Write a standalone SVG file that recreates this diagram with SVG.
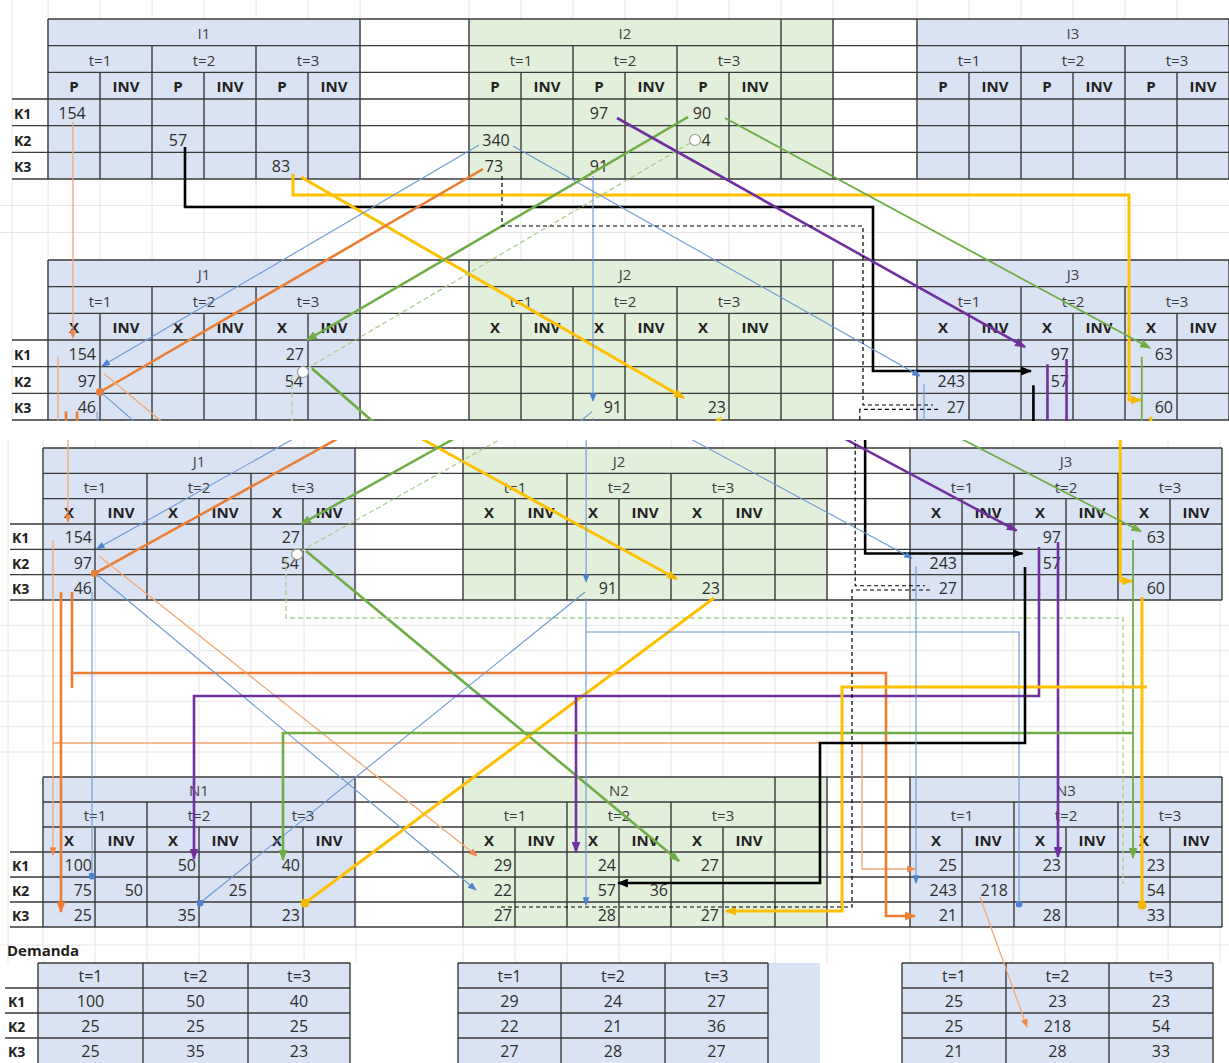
<svg xmlns="http://www.w3.org/2000/svg" xmlns:xlink="http://www.w3.org/1999/xlink" width="1229" height="1063" viewBox="0 0 1229 1063">
<style>
.fr{fill:none;stroke:#3a3a3a;stroke-width:1.4}
.rl{fill:none;stroke:#3a3a3a;stroke-width:1.4}
.gr{fill:none;stroke:#e6e6e6;stroke-width:1}
.blue{fill:#dae3f3}
.green{fill:#e2efda}
.h{font-family:"Open Sans","Liberation Sans",sans-serif;font-size:15px;fill:#3a3a3a;text-anchor:middle}
.b{font-weight:bold;fill:#222}
.ti{font-family:"Open Sans","Liberation Sans",sans-serif;font-size:15px;fill:#444;text-anchor:middle}
.v{font-family:"Open Sans","Liberation Sans",sans-serif;font-size:16px;fill:#2e2e2e;text-anchor:end}
.vc{font-family:"Open Sans","Liberation Sans",sans-serif;font-size:16px;fill:#2e2e2e;text-anchor:middle}
.k{font-family:"Open Sans","Liberation Sans",sans-serif;font-size:14px;font-weight:bold;fill:#222}
.oT{fill:none;stroke:#f4a773;stroke-width:1.3}
.oK{fill:none;stroke:#ed7d31;stroke-width:2.6}
.bT{fill:none;stroke:#6b97d6;stroke-width:1.1}
.gK{fill:none;stroke:#70ad47;stroke-width:2.6}
.gT{fill:none;stroke:#70ad47;stroke-width:1.8}
.gD{fill:none;stroke:#a9cf8e;stroke-width:1.3;stroke-dasharray:5 3}
.yK{fill:none;stroke:#ffc000;stroke-width:3}
.pK{fill:none;stroke:#7030a0;stroke-width:2.6}
.kK{fill:none;stroke:#000;stroke-width:2.6}
.kD{fill:none;stroke:#000;stroke-width:1.2;stroke-dasharray:4 3}
.ring{fill:#fff;stroke:#9a9a9a;stroke-width:1.2}
</style>
<defs>
<marker id="mO" viewBox="0 0 10 8" refX="9" refY="4" markerWidth="11" markerHeight="9" markerUnits="userSpaceOnUse" orient="auto"><path d="M0,0L10,4L0,8z" fill="#ed7d31"/></marker>
<marker id="mOt" viewBox="0 0 10 8" refX="9" refY="4" markerWidth="9" markerHeight="7" markerUnits="userSpaceOnUse" orient="auto"><path d="M0,0L10,4L0,8z" fill="#f08a4b"/></marker>
<marker id="mOd" viewBox="0 0 10 10" refX="5" refY="5" markerWidth="8" markerHeight="8" markerUnits="userSpaceOnUse"><circle cx="5" cy="5" r="5" fill="#ed7d31"/></marker>
<marker id="mB" viewBox="0 0 10 8" refX="9" refY="4" markerWidth="9" markerHeight="7" markerUnits="userSpaceOnUse" orient="auto"><path d="M0,0L10,4L0,8z" fill="#4f83d0"/></marker>
<marker id="mBd" viewBox="0 0 10 10" refX="5" refY="5" markerWidth="7" markerHeight="7" markerUnits="userSpaceOnUse"><circle cx="5" cy="5" r="5" fill="#4f83d0"/></marker>
<marker id="mG" viewBox="0 0 10 8" refX="9" refY="4" markerWidth="11" markerHeight="9" markerUnits="userSpaceOnUse" orient="auto"><path d="M0,0L10,4L0,8z" fill="#70ad47"/></marker>
<marker id="mY" viewBox="0 0 10 8" refX="9" refY="4" markerWidth="11" markerHeight="9" markerUnits="userSpaceOnUse" orient="auto"><path d="M0,0L10,4L0,8z" fill="#f5b800"/></marker>
<marker id="mYd" viewBox="0 0 10 10" refX="5" refY="5" markerWidth="9" markerHeight="9" markerUnits="userSpaceOnUse"><circle cx="5" cy="5" r="5" fill="#f5b800"/></marker>
<marker id="mP" viewBox="0 0 10 8" refX="9" refY="4" markerWidth="11" markerHeight="9" markerUnits="userSpaceOnUse" orient="auto"><path d="M0,0L10,4L0,8z" fill="#7030a0"/></marker>
<marker id="mK" viewBox="0 0 10 8" refX="9" refY="4" markerWidth="11" markerHeight="9" markerUnits="userSpaceOnUse" orient="auto"><path d="M0,0L10,4L0,8z" fill="#000"/></marker>
<g id="fT"><rect width="312" height="160"/><path class="fr" d="M0,0V160M312,0V160M104,26.67V160M208,26.67V160M52,53.33V160M156,53.33V160M260,53.33V160"/></g>
<g id="fT2"><rect width="364" height="160"/><path class="fr" d="M0,0V160M312,0V160M364,0V160M104,26.67V160M208,26.67V160M52,53.33V160M156,53.33V160M260,53.33V160"/></g>
<g id="f3"><rect width="312" height="152"/><path class="fr" d="M0,0V152M312,0V152M104,25.33V152M208,25.33V152M52,50.67V152M156,50.67V152M260,50.67V152"/></g>
<g id="f3b"><rect width="364" height="152"/><path class="fr" d="M0,0V152M312,0V152M364,0V152M104,25.33V152M208,25.33V152M52,50.67V152M156,50.67V152M260,50.67V152"/></g>
<g id="f4"><rect width="312" height="150"/><path class="fr" d="M0,0V150M312,0V150M104,25V150M208,25V150M52,50V150M156,50V150M260,50V150"/></g>
<g id="f4b"><rect width="364" height="150"/><path class="fr" d="M0,0V150M312,0V150M364,0V150M104,25V150M208,25V150M52,50V150M156,50V150M260,50V150"/></g>
<clipPath id="cTop"><rect x="0" y="0" width="1229" height="421"/></clipPath>
<clipPath id="cBot"><rect x="0" y="440" width="1229" height="623"/></clipPath>
</defs>

<rect width="1229" height="1063" fill="#fff"/>

<g id="sheet-grid">
<path class="gr" d="M12,0V421M48,0V421M100,0V421M152,0V421M204,0V421M256,0V421M308,0V421M360,0V421M469,0V421M521,0V421M573,0V421M625,0V421M677,0V421M729,0V421M781,0V421M833,0V421M917,0V421M969,0V421M1021,0V421M1073,0V421M1125,0V421M1177,0V421M0,205.5H1229M0,232.5H1229"/>
<path class="gr" d="M8,440V963M43,440V963M95,440V963M147,440V963M199,440V963M251,440V963M304,440V963M356,440V963M463,440V963M515,440V963M567,440V963M619,440V963M671,440V963M723,440V963M775,440V963M827,440V963M910,440V963M962,440V963M1013,440V963M1065,440V963M1117,440V963M1168,440V963M1220,440V963M0,625.3H1229M0,650.7H1229M0,676H1229M0,701.3H1229M0,726.7H1229M0,752H1229M0,945H1229"/>
</g>

<g id="I1" transform="translate(48,19)"><use href="#fT" class="blue"/>
<text class="ti" x="156" y="19.8">I1</text>
<text class="h"><tspan x="52" y="46.5">t=1</tspan><tspan x="156" y="46.5">t=2</tspan><tspan x="260" y="46.5">t=3</tspan></text>
<text class="h b"><tspan x="26" y="73.2">P</tspan><tspan x="78" y="73.2">INV</tspan><tspan x="130" y="73.2">P</tspan><tspan x="182" y="73.2">INV</tspan><tspan x="234" y="73.2">P</tspan><tspan x="286" y="73.2">INV</tspan></text>
<text class="vc" x="24" y="99.8">154</text><text class="vc" x="130" y="126.5">57</text><text class="vc" x="233" y="153.2">83</text>
</g>
<g id="I2" transform="translate(469,19)"><use href="#fT2" class="green"/>
<text class="ti" x="156" y="19.8">I2</text>
<text class="h"><tspan x="52" y="46.5">t=1</tspan><tspan x="156" y="46.5">t=2</tspan><tspan x="260" y="46.5">t=3</tspan></text>
<text class="h b"><tspan x="26" y="73.2">P</tspan><tspan x="78" y="73.2">INV</tspan><tspan x="130" y="73.2">P</tspan><tspan x="182" y="73.2">INV</tspan><tspan x="234" y="73.2">P</tspan><tspan x="286" y="73.2">INV</tspan></text>
<text class="vc" x="130" y="99.8">97</text><text class="vc" x="233" y="99.8">90</text>
<text class="vc" x="27" y="126.5">340</text><text class="vc" x="237" y="126.5">4</text>
<text class="vc" x="25" y="153.2">73</text><text class="vc" x="130" y="153.2">91</text>
</g>
<g id="I3" transform="translate(917,19)"><use href="#fT" class="blue"/>
<text class="ti" x="156" y="19.8">I3</text>
<text class="h"><tspan x="52" y="46.5">t=1</tspan><tspan x="156" y="46.5">t=2</tspan><tspan x="260" y="46.5">t=3</tspan></text>
<text class="h b"><tspan x="26" y="73.2">P</tspan><tspan x="78" y="73.2">INV</tspan><tspan x="130" y="73.2">P</tspan><tspan x="182" y="73.2">INV</tspan><tspan x="234" y="73.2">P</tspan><tspan x="286" y="73.2">INV</tspan></text>
</g>

<g id="J1" transform="translate(48,260)"><use href="#fT" class="blue"/>
<text class="ti" x="156" y="19.8">J1</text>
<text class="h"><tspan x="52" y="46.5">t=1</tspan><tspan x="156" y="46.5">t=2</tspan><tspan x="260" y="46.5">t=3</tspan></text>
<text class="h b"><tspan x="26" y="73.2">X</tspan><tspan x="78" y="73.2">INV</tspan><tspan x="130" y="73.2">X</tspan><tspan x="182" y="73.2">INV</tspan><tspan x="234" y="73.2">X</tspan><tspan x="286" y="73.2">INV</tspan></text>
<text class="v" x="48" y="99.8">154</text><text class="v" x="48" y="126.5">97</text><text class="v" x="48" y="153.2">46</text>
<text class="v" x="256" y="99.8">27</text><text class="v" x="255" y="126.5">54</text>
</g>
<g id="J2" transform="translate(469,260)"><use href="#fT2" class="green"/>
<text class="ti" x="156" y="19.8">J2</text>
<text class="h"><tspan x="52" y="46.5">t=1</tspan><tspan x="156" y="46.5">t=2</tspan><tspan x="260" y="46.5">t=3</tspan></text>
<text class="h b"><tspan x="26" y="73.2">X</tspan><tspan x="78" y="73.2">INV</tspan><tspan x="130" y="73.2">X</tspan><tspan x="182" y="73.2">INV</tspan><tspan x="234" y="73.2">X</tspan><tspan x="286" y="73.2">INV</tspan></text>
<text class="v" x="153" y="153.2">91</text><text class="v" x="257" y="153.2">23</text>
</g>
<g id="J3" transform="translate(917,260)"><use href="#fT" class="blue"/>
<text class="ti" x="156" y="19.8">J3</text>
<text class="h"><tspan x="52" y="46.5">t=1</tspan><tspan x="156" y="46.5">t=2</tspan><tspan x="260" y="46.5">t=3</tspan></text>
<text class="h b"><tspan x="26" y="73.2">X</tspan><tspan x="78" y="73.2">INV</tspan><tspan x="130" y="73.2">X</tspan><tspan x="182" y="73.2">INV</tspan><tspan x="234" y="73.2">X</tspan><tspan x="286" y="73.2">INV</tspan></text>
<text class="v" x="152" y="99.8">97</text><text class="v" x="256" y="99.8">63</text>
<text class="v" x="48" y="126.5">243</text><text class="v" x="152" y="126.5">57</text>
<text class="v" x="48" y="153.2">27</text><text class="v" x="256" y="153.2">60</text>
</g>

<g id="J1b" transform="translate(43,448)"><use href="#f3" class="blue"/>
<text class="ti" x="156" y="19.2">J1</text>
<text class="h"><tspan x="52" y="44.5">t=1</tspan><tspan x="156" y="44.5">t=2</tspan><tspan x="260" y="44.5">t=3</tspan></text>
<text class="h b"><tspan x="26" y="69.8">X</tspan><tspan x="78" y="69.8">INV</tspan><tspan x="130" y="69.8">X</tspan><tspan x="182" y="69.8">INV</tspan><tspan x="234" y="69.8">X</tspan><tspan x="286" y="69.8">INV</tspan></text>
<text class="v" x="49" y="95.2">154</text><text class="v" x="49" y="120.5">97</text><text class="v" x="49" y="145.8">46</text>
<text class="v" x="257" y="95.2">27</text><text class="v" x="256" y="120.5">54</text>
</g>
<g id="J2b" transform="translate(463,448)"><use href="#f3b" class="green"/>
<text class="ti" x="156" y="19.2">J2</text>
<text class="h"><tspan x="52" y="44.5">t=1</tspan><tspan x="156" y="44.5">t=2</tspan><tspan x="260" y="44.5">t=3</tspan></text>
<text class="h b"><tspan x="26" y="69.8">X</tspan><tspan x="78" y="69.8">INV</tspan><tspan x="130" y="69.8">X</tspan><tspan x="182" y="69.8">INV</tspan><tspan x="234" y="69.8">X</tspan><tspan x="286" y="69.8">INV</tspan></text>
<text class="v" x="154" y="145.8">91</text><text class="v" x="257" y="145.8">23</text>
</g>
<g id="J3b" transform="translate(910,448)"><use href="#f3" class="blue"/>
<text class="ti" x="156" y="19.2">J3</text>
<text class="h"><tspan x="52" y="44.5">t=1</tspan><tspan x="156" y="44.5">t=2</tspan><tspan x="260" y="44.5">t=3</tspan></text>
<text class="h b"><tspan x="26" y="69.8">X</tspan><tspan x="78" y="69.8">INV</tspan><tspan x="130" y="69.8">X</tspan><tspan x="182" y="69.8">INV</tspan><tspan x="234" y="69.8">X</tspan><tspan x="286" y="69.8">INV</tspan></text>
<text class="v" x="151" y="95.2">97</text><text class="v" x="255" y="95.2">63</text>
<text class="v" x="47" y="120.5">243</text><text class="v" x="151" y="120.5">57</text>
<text class="v" x="47" y="145.8">27</text><text class="v" x="255" y="145.8">60</text>
</g>

<g id="N1" transform="translate(43,777)"><use href="#f4" class="blue"/>
<text class="ti" x="156" y="18.5">N1</text>
<text class="h"><tspan x="52" y="44">t=1</tspan><tspan x="156" y="44">t=2</tspan><tspan x="260" y="44">t=3</tspan></text>
<text class="h b"><tspan x="26" y="69">X</tspan><tspan x="78" y="69">INV</tspan><tspan x="130" y="69">X</tspan><tspan x="182" y="69">INV</tspan><tspan x="234" y="69">X</tspan><tspan x="286" y="69">INV</tspan></text>
<text class="v" x="49" y="94">100</text><text class="v" x="153" y="94">50</text><text class="v" x="257" y="94">40</text>
<text class="v" x="49" y="119">75</text><text class="v" x="100" y="119">50</text><text class="v" x="204" y="119">25</text>
<text class="v" x="49" y="144">25</text><text class="v" x="153" y="144">35</text><text class="v" x="257" y="144">23</text>
</g>
<g id="N2" transform="translate(463,777)"><use href="#f4b" class="green"/>
<text class="ti" x="156" y="18.5">N2</text>
<text class="h"><tspan x="52" y="44">t=1</tspan><tspan x="156" y="44">t=2</tspan><tspan x="260" y="44">t=3</tspan></text>
<text class="h b"><tspan x="26" y="69">X</tspan><tspan x="78" y="69">INV</tspan><tspan x="130" y="69">X</tspan><tspan x="182" y="69">INV</tspan><tspan x="234" y="69">X</tspan><tspan x="286" y="69">INV</tspan></text>
<text class="v" x="49" y="94">29</text><text class="v" x="153" y="94">24</text><text class="v" x="256" y="94">27</text>
<text class="v" x="49" y="119">22</text><text class="v" x="153" y="119">57</text><text class="v" x="205" y="119">36</text>
<text class="v" x="49" y="144">27</text><text class="v" x="153" y="144">28</text><text class="v" x="256" y="144">27</text>
</g>
<g id="N3" transform="translate(910,777)"><use href="#f4" class="blue"/>
<text class="ti" x="156" y="18.5">N3</text>
<text class="h"><tspan x="52" y="44">t=1</tspan><tspan x="156" y="44">t=2</tspan><tspan x="260" y="44">t=3</tspan></text>
<text class="h b"><tspan x="26" y="69">X</tspan><tspan x="78" y="69">INV</tspan><tspan x="130" y="69">X</tspan><tspan x="182" y="69">INV</tspan><tspan x="234" y="69">X</tspan><tspan x="286" y="69">INV</tspan></text>
<text class="v" x="47" y="94">25</text><text class="v" x="151" y="94">23</text><text class="v" x="255" y="94">23</text>
<text class="v" x="47" y="119">243</text><text class="v" x="98" y="119">218</text><text class="v" x="255" y="119">54</text>
<text class="v" x="47" y="144">21</text><text class="v" x="151" y="144">28</text><text class="v" x="255" y="144">33</text>
</g>

<g id="row-lines">
<path class="rl" d="M48,19H1229M48,45.67H1229M48,72.33H1229M12,99H1229M12,125.67H1229M12,152.33H1229M12,179H1229"/>
<path class="rl" d="M48,260H1229M48,286.67H1229M48,313.33H1229M12,340H1229M12,366.67H1229M12,393.33H1229M12,420H1229"/>
<path class="rl" d="M43,448H1222M43,473.33H1222M43,498.67H1222M10,524H1222M10,549.33H1222M10,574.67H1222M10,600H1222"/>
<path class="rl" d="M43,777H1222M43,802H1222M43,827H1222M10,852H1222M10,877H1222M10,902H1222M10,927H1222"/>
</g>

<g id="row-labels" class="k">
<text x="14" y="118.8">K1</text><text x="14" y="145.5">K2</text><text x="14" y="172.2">K3</text>
<text x="14" y="359.8">K1</text><text x="14" y="386.5">K2</text><text x="14" y="413.2">K3</text>
<text x="12" y="543.2">K1</text><text x="12" y="568.5">K2</text><text x="12" y="593.8">K3</text>
<text x="12" y="871">K1</text><text x="12" y="896">K2</text><text x="12" y="921">K3</text>
</g>

<g id="demanda">
<text class="k" x="7" y="956" style="font-size:15px">Demanda</text>
<g id="D1">
<rect x="38" y="963" width="312" height="100" class="blue"/>
<path class="rl" d="M38,963H350M5,988H350M5,1013H350M5,1038H350M38,963V1063M143,963V1063M248,963V1063M350,963V1063"/>
<text class="vc"><tspan x="90.5" y="982">t=1</tspan><tspan x="195.5" y="982">t=2</tspan><tspan x="299" y="982">t=3</tspan></text>
<text class="vc"><tspan x="90.5" y="1007">100</tspan><tspan x="195.5" y="1007">50</tspan><tspan x="299" y="1007">40</tspan></text>
<text class="vc"><tspan x="90.5" y="1032">25</tspan><tspan x="195.5" y="1032">25</tspan><tspan x="299" y="1032">25</tspan></text>
<text class="vc"><tspan x="90.5" y="1057">25</tspan><tspan x="195.5" y="1057">35</tspan><tspan x="299" y="1057">23</tspan></text>
<text class="k" x="8" y="1007">K1</text><text class="k" x="8" y="1032">K2</text><text class="k" x="8" y="1057">K3</text>
</g>
<g id="D2">
<rect x="458" y="963" width="362" height="100" class="blue"/>
<path class="rl" d="M458,963H768M458,988H768M458,1013H768M458,1038H768M458,963V1063M561,963V1063M665,963V1063M768,963V1063"/>
<text class="vc"><tspan x="509.5" y="982">t=1</tspan><tspan x="613" y="982">t=2</tspan><tspan x="716.5" y="982">t=3</tspan></text>
<text class="vc"><tspan x="509.5" y="1007">29</tspan><tspan x="613" y="1007">24</tspan><tspan x="716.5" y="1007">27</tspan></text>
<text class="vc"><tspan x="509.5" y="1032">22</tspan><tspan x="613" y="1032">21</tspan><tspan x="716.5" y="1032">36</tspan></text>
<text class="vc"><tspan x="509.5" y="1057">27</tspan><tspan x="613" y="1057">28</tspan><tspan x="716.5" y="1057">27</tspan></text>
</g>
<g id="D3">
<rect x="902" y="963" width="311" height="100" class="blue"/>
<path class="rl" d="M902,963H1213M902,988H1213M902,1013H1213M902,1038H1213M902,963V1063M1006,963V1063M1109,963V1063M1213,963V1063"/>
<text class="vc"><tspan x="954" y="982">t=1</tspan><tspan x="1057.5" y="982">t=2</tspan><tspan x="1161" y="982">t=3</tspan></text>
<text class="vc"><tspan x="954" y="1007">25</tspan><tspan x="1057.5" y="1007">23</tspan><tspan x="1161" y="1007">23</tspan></text>
<text class="vc"><tspan x="954" y="1032">25</tspan><tspan x="1057.5" y="1032">218</tspan><tspan x="1161" y="1032">54</tspan></text>
<text class="vc"><tspan x="954" y="1057">21</tspan><tspan x="1057.5" y="1057">28</tspan><tspan x="1161" y="1057">33</tspan></text>
</g>
</g>

<g id="connectors">
<g clip-path="url(#cTop)">
<g id="lnIJ">
<path class="oT" d="M73,122V338" marker-end="url(#mOt)"/>
<path class="kK" d="M185,147V207H873V371H1031" marker-end="url(#mK)"/>
<path class="yK" d="M293,174V195H1129V400H1141" marker-end="url(#mY)"/>
<path class="yK" d="M301,177L684,398" marker-end="url(#mY)"/>
<path class="bT" d="M479,145L102,366" marker-end="url(#mB)"/>
<path class="oK" d="M483,169L100,392" marker-end="url(#mOd)"/>
<path class="bT" d="M513,146L920,376" marker-end="url(#mB)"/>
<path class="gK" d="M688,117L307,340" marker-end="url(#mG)"/>
<path class="gD" d="M690,143L306,369"/>
<circle class="ring" cx="695" cy="140" r="5.5"/>
<circle class="ring" cx="303" cy="372" r="5.5"/>
<path class="gT" d="M725,118L1150,348" marker-end="url(#mG)"/>
<path class="pK" d="M617,118L1025,347" marker-end="url(#mP)"/>
<path class="bT" d="M593,176V401" marker-end="url(#mB)"/>
<path class="kD" d="M502,176V226H863V405H933"/>
</g>
<g transform="matrix(1.003512,0,0,1.052632,4.817,-211.579)"><use href="#lnJN"/></g>
</g>
<g clip-path="url(#cBot)">
<use href="#lnIJ" transform="matrix(0.9965,0,0,0.95,-4.8,201)"/>
<g id="lnJN">
<path class="oT" d="M53,540V855" marker-end="url(#mOt)"/>
<path class="oT" d="M53,743H862V869H915" marker-end="url(#mOt)"/>
<path class="oK" d="M61,592V912" marker-end="url(#mO)"/>
<path class="oK" d="M72,592V688M72,673H886V916H915" marker-end="url(#mO)"/>
<path class="bT" d="M92,592V876" marker-end="url(#mBd)"/>
<path class="bT" d="M96,574L476,890" marker-end="url(#mB)"/>
<path class="oT" d="M99,556L477,856" marker-end="url(#mOt)"/>
<path class="gK" d="M306,551L679,861" marker-end="url(#mG)"/>
<path class="gD" d="M286,558V618H1123V884"/>
<path class="bT" d="M585,592L200,903" marker-end="url(#mBd)"/>
<path class="yK" d="M714,598L305,903" marker-end="url(#mYd)"/>
<path class="bT" d="M586,598V905" marker-end="url(#mB)"/>
<path class="bT" d="M586,632H1019V904" marker-end="url(#mBd)"/>
<path class="pK" d="M1039,547V696H194V859" marker-end="url(#mP)"/>
<path class="pK" d="M576,696V852" marker-end="url(#mP)"/>
<path class="pK" d="M1058,542V857" marker-end="url(#mP)"/>
<path class="gT" d="M1133,540V858" marker-end="url(#mG)"/>
<path class="gK" d="M1132,733H283V860" marker-end="url(#mG)"/>
<path class="yK" d="M1142,597V905" marker-end="url(#mYd)"/>
<path class="yK" d="M1147,687H842V911H726" marker-end="url(#mY)"/>
<path class="kK" d="M1025,567V743H820V883H618" marker-end="url(#mK)"/>
<path class="kD" d="M930,590H852V907H500"/>
<path class="bT" d="M916,566V883" marker-end="url(#mB)"/>
<path class="oT" d="M980,897L1027,1027" marker-end="url(#mOt)"/>
</g>
</g>
</g>
</svg>
